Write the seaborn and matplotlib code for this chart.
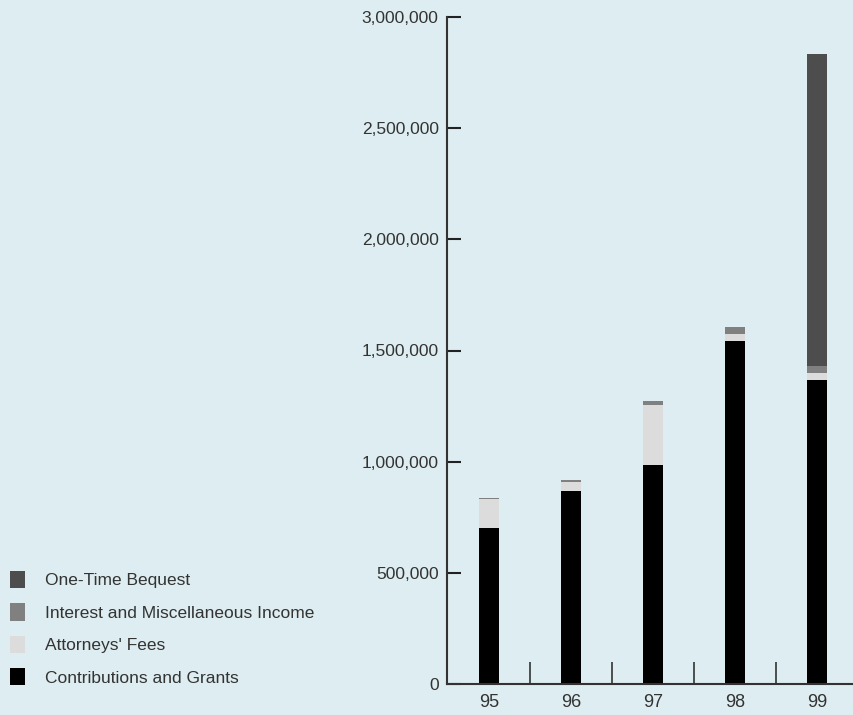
import matplotlib
matplotlib.use("Agg")
import matplotlib.pyplot as plt
import matplotlib.ticker as mticker
from matplotlib.patches import Patch
import seaborn as sns
import numpy as np
import pandas as pd

years = ["95", "96", "97", "98", "99"]
contributions = [703000, 870000, 985000, 1543000, 1367000]
attorneys_fees = [129000, 40000, 270000, 31000, 33000]
interest_misc = [6000, 8000, 19000, 31000, 30000]
bequest = [0, 0, 0, 0, 1404000]

series_names = ["Contributions and Grants", "Attorneys' Fees",
                "Interest and Miscellaneous Income", "One-Time Bequest"]
series_values = [contributions, attorneys_fees, interest_misc, bequest]
colors = ["#000000", "#dcdcdc", "#808080", "#4d4d4d"]
bg = "#deedf1"

sns.set_theme(style="white")
plt.rcParams["font.family"] = ["Liberation Sans", "DejaVu Sans"]

fig = plt.figure(figsize=(8.54, 7.15), dpi=100, facecolor=bg)
ax = fig.add_axes([447/854, 1 - 684/715, 1 - 447/854, (684 - 17)/715])
ax.set_facecolor(bg)

cum = np.cumsum(np.array(series_values), axis=0)
# draw tallest cumulative layer first
for i in range(len(series_names) - 1, -1, -1):
    df = pd.DataFrame({"year": years, "value": cum[i]})
    sns.barplot(data=df, x="year", y="value", color=colors[i], width=0.245,
                saturation=1, ax=ax, linewidth=0, zorder=2)

ax.set_xlim(-0.51, 4.45)
ax.set_ylim(0, 3000000)
ax.set_xlabel("")
ax.set_ylabel("")
ax.yaxis.set_major_locator(mticker.MultipleLocator(500000))
ax.yaxis.set_major_formatter(mticker.FuncFormatter(lambda v, p: f"{int(v):,}"))
ax.tick_params(axis="y", direction="in", length=10, width=1.5, color="#222222",
               labelsize=12.5, labelcolor="#333333", pad=6, left=True)
ax.tick_params(axis="x", which="major", length=0, labelsize=13,
               labelcolor="#333333", pad=7)
ax.xaxis.set_minor_locator(mticker.FixedLocator([0.5, 1.5, 2.5, 3.5]))
ax.tick_params(axis="x", which="minor", direction="in", length=16, width=1.2,
               color="#333333", bottom=True)
for s in ["top", "right"]:
    ax.spines[s].set_visible(False)
for s in ["left", "bottom"]:
    ax.spines[s].set_color("#333333")
    ax.spines[s].set_linewidth(1.5)

handles = [Patch(facecolor=colors[i], edgecolor="none", label=series_names[i])
           for i in range(len(series_names) - 1, -1, -1)]
fig.legend(handles=handles, loc="lower left", bbox_to_anchor=(10/854, 0.041),
           borderpad=0, borderaxespad=0,
           frameon=False, fontsize=12.5, handlelength=0.85, handleheight=1.15,
           handletextpad=1.15, labelspacing=0.86, labelcolor="#333333")

fig.savefig("out.png", dpi=100, facecolor=bg)
